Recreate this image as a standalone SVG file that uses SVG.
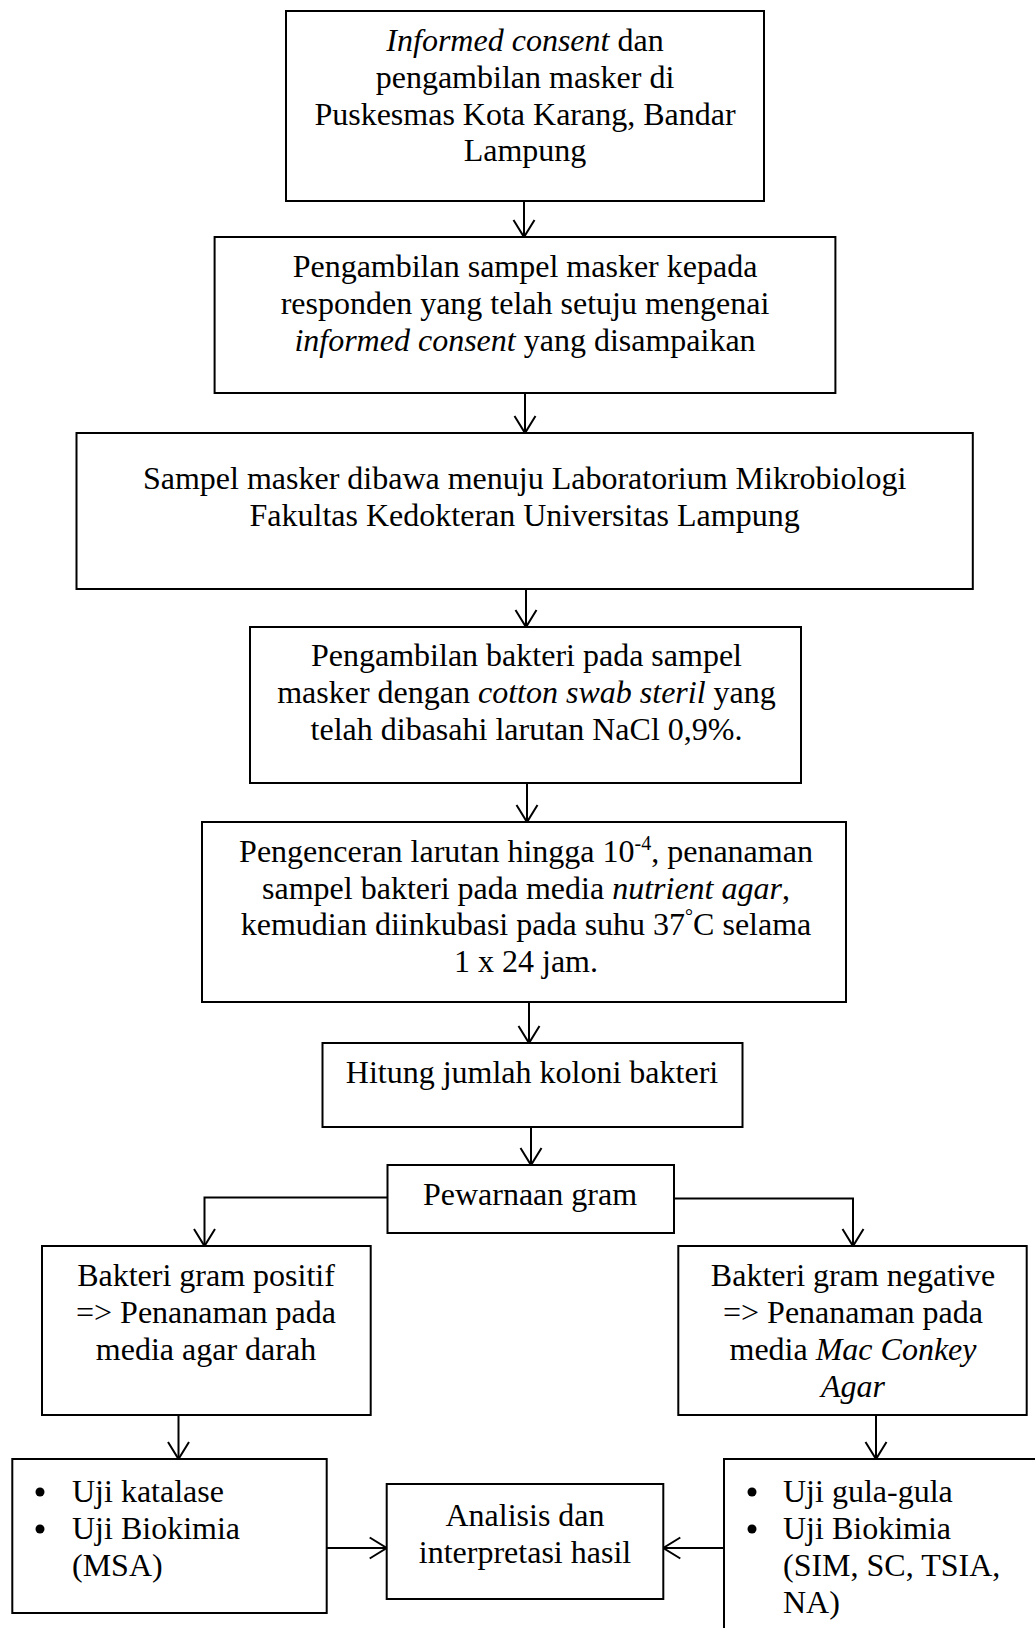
<svg xmlns="http://www.w3.org/2000/svg" width="1035" height="1628" viewBox="0 0 1035 1628">
<style>
.box{fill:#fff;stroke:#000;stroke-width:2}
.t{font-family:"Liberation Serif","Times New Roman",serif;font-size:32px;fill:#000}
.c{text-anchor:middle}
.i{font-style:italic}
.sup{font-size:20px}
.con{fill:none;stroke:#000;stroke-width:2}
</style>
<defs>
<marker id="arr" viewBox="0 0 20 24" refX="18" refY="12" markerWidth="20" markerHeight="24" markerUnits="userSpaceOnUse" orient="auto">
<path d="M1,1.5 L18,12 L1,22.5" fill="none" stroke="#000" stroke-width="2"/>
</marker>
</defs>
<rect width="1035" height="1628" fill="#fff"/>
<g id="connectors">
<line class="con" x1="524" y1="201" x2="524" y2="237" marker-end="url(#arr)"/>
<line class="con" x1="525" y1="393" x2="525" y2="433" marker-end="url(#arr)"/>
<line class="con" x1="526" y1="589" x2="526" y2="627" marker-end="url(#arr)"/>
<line class="con" x1="527" y1="783" x2="527" y2="822" marker-end="url(#arr)"/>
<line class="con" x1="529" y1="1002" x2="529" y2="1043" marker-end="url(#arr)"/>
<line class="con" x1="531" y1="1127" x2="531" y2="1165" marker-end="url(#arr)"/>
<polyline class="con" points="387.5,1197.5 204.5,1197.5 204.5,1246" marker-end="url(#arr)"/>
<polyline class="con" points="674,1198.5 853,1198.5 853,1246" marker-end="url(#arr)"/>
<line class="con" x1="178.5" y1="1415" x2="178.5" y2="1459" marker-end="url(#arr)"/>
<line class="con" x1="876" y1="1415" x2="876" y2="1459" marker-end="url(#arr)"/>
<line class="con" x1="323" y1="1548" x2="386.7" y2="1548" marker-end="url(#arr)"/>
<line class="con" x1="724" y1="1548" x2="663.3" y2="1548" marker-end="url(#arr)"/>
</g>
<g id="n1">
<rect class="box" x="286" y="11" width="478" height="190"/>
<text class="t c" x="525" y="51"><tspan class="i">Informed consent</tspan> dan</text>
<text class="t c" x="525" y="88">pengambilan masker di</text>
<text class="t c" x="525" y="124.5">Puskesmas Kota Karang, Bandar</text>
<text class="t c" x="525" y="161">Lampung</text>
</g>
<g id="n2">
<rect class="box" x="214.6" y="237" width="620.8" height="156"/>
<text class="t c" x="525" y="277">Pengambilan sampel masker kepada</text>
<text class="t c" x="525" y="314">responden yang telah setuju mengenai</text>
<text class="t c" x="525" y="351"><tspan class="i">informed consent</tspan> yang disampaikan</text>
</g>
<g id="n3">
<rect class="box" x="76.5" y="433" width="896.3" height="156"/>
<text class="t c" x="524.6" y="489">Sampel masker dibawa menuju Laboratorium Mikrobiologi</text>
<text class="t c" x="524.6" y="526">Fakultas Kedokteran Universitas Lampung</text>
</g>
<g id="n4">
<rect class="box" x="250" y="627" width="551" height="156"/>
<text class="t c" x="526.5" y="666">Pengambilan bakteri pada sampel</text>
<text class="t c" x="526.5" y="703">masker dengan <tspan class="i">cotton swab steril</tspan> yang</text>
<text class="t c" x="526.5" y="740">telah dibasahi larutan NaCl 0,9%.</text>
</g>
<g id="n5">
<rect class="box" x="202" y="822" width="644" height="180"/>
<text class="t c" x="526" y="862">Pengenceran larutan hingga 10<tspan class="sup" dy="-12">-4</tspan><tspan dy="12">, penanaman</tspan></text>
<text class="t c" x="526" y="899">sampel bakteri pada media <tspan class="i">nutrient agar</tspan>,</text>
<text class="t c" x="526" y="935">kemudian diinkubasi pada suhu 37<tspan class="sup" dy="-12">°</tspan><tspan dy="12">C selama</tspan></text>
<text class="t c" x="526" y="972">1 x 24 jam.</text>
</g>
<g id="n6">
<rect class="box" x="322.5" y="1043" width="420" height="84"/>
<text class="t c" x="532" y="1083">Hitung jumlah koloni bakteri</text>
</g>
<g id="n7">
<rect class="box" x="387.5" y="1165" width="286.5" height="68"/>
<text class="t c" x="530" y="1205">Pewarnaan gram</text>
</g>
<g id="n8">
<rect class="box" x="42" y="1246" width="328.7" height="169"/>
<text class="t c" x="206" y="1286">Bakteri gram positif</text>
<text class="t c" x="206" y="1323">=&gt; Penanaman pada</text>
<text class="t c" x="206" y="1360">media agar darah</text>
</g>
<g id="n9">
<rect class="box" x="12.3" y="1459" width="314.4" height="154"/>
<circle cx="40" cy="1492" r="4.5" fill="#000"/>
<circle cx="40" cy="1529" r="4.5" fill="#000"/>
<text class="t" x="72" y="1502">Uji katalase</text>
<text class="t" x="72" y="1539">Uji Biokimia</text>
<text class="t" x="72" y="1576">(MSA)</text>
</g>
<g id="n10">
<rect class="box" x="386.7" y="1484" width="276.6" height="115"/>
<text class="t c" x="525" y="1526">Analisis dan</text>
<text class="t c" x="525" y="1563">interpretasi hasil</text>
</g>
<g id="n11">
<rect class="box" x="678.3" y="1246" width="348.4" height="169"/>
<text class="t c" x="853" y="1286">Bakteri gram negative</text>
<text class="t c" x="853" y="1323">=&gt; Penanaman pada</text>
<text class="t c" x="853" y="1360">media <tspan class="i">Mac Conkey</tspan></text>
<text class="t c i" x="853" y="1397">Agar</text>
</g>
<g id="n12">
<rect class="box" x="724" y="1459" width="330" height="200"/>
<circle cx="752" cy="1492" r="4.5" fill="#000"/>
<circle cx="752" cy="1529" r="4.5" fill="#000"/>
<text class="t" x="783" y="1502">Uji gula-gula</text>
<text class="t" x="783" y="1539">Uji Biokimia</text>
<text class="t" x="783" y="1576">(SIM, SC, TSIA,</text>
<text class="t" x="783" y="1613">NA)</text>
</g>
</svg>
